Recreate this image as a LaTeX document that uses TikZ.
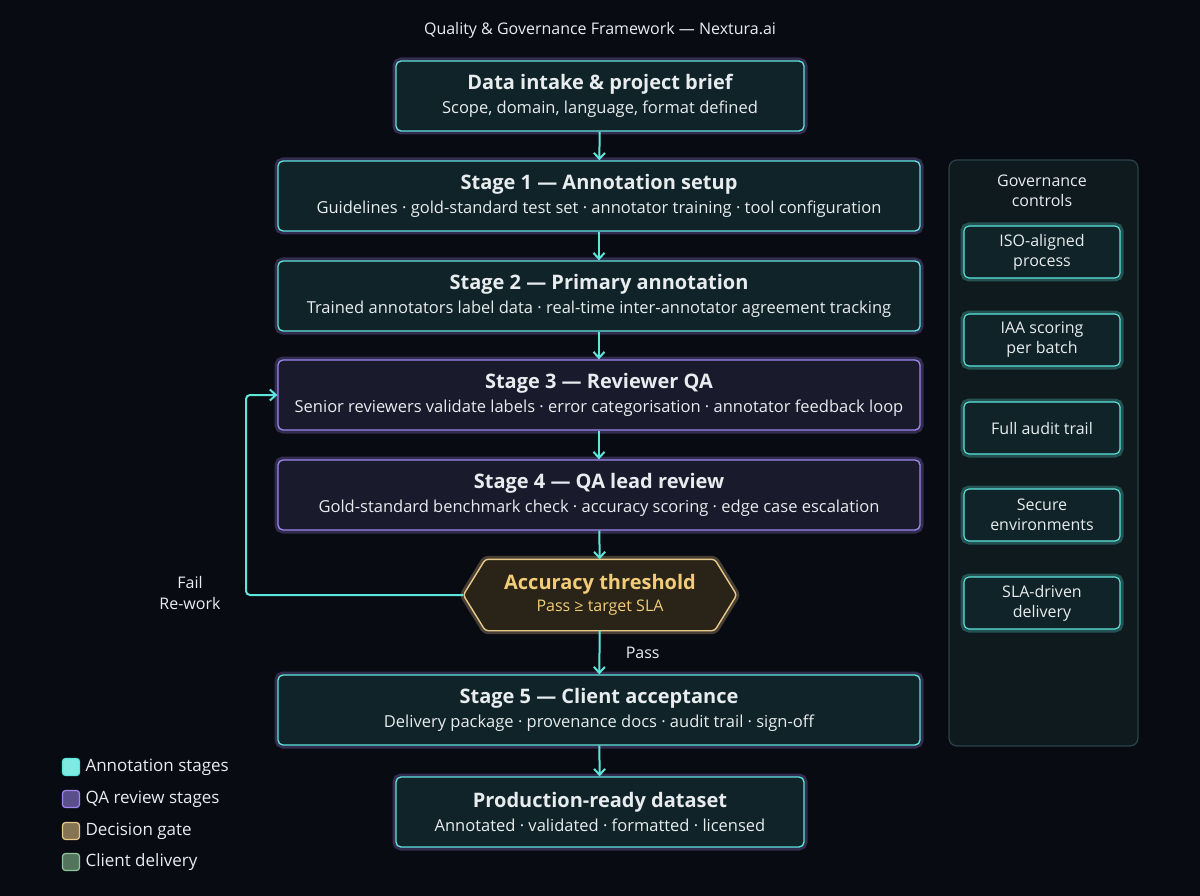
\documentclass[tikz,border=0pt]{standalone}
\usepackage{fontspec}
\setmainfont{Open Sans}
\usetikzlibrary{calc,arrows.meta}
\definecolor{bgc}{HTML}{090B13}
\definecolor{cyanl}{HTML}{5EE6DC}
\definecolor{cyanf}{HTML}{0F2328}
\definecolor{purl}{HTML}{9E86EE}
\definecolor{purf}{HTML}{191A2C}
\definecolor{goldl}{HTML}{E8C98A}
\definecolor{goldf}{HTML}{2A2418}
\definecolor{goldt}{HTML}{F2CC78}
\definecolor{greenl}{HTML}{8FC89A}
\definecolor{txt}{HTML}{E8ECEE}
\definecolor{panelf}{HTML}{0F1A1F}
\definecolor{panell}{HTML}{2C4248}
\tikzset{
  glow/.style={preaction={draw=#1, line width=7pt, draw opacity=0.28}},
  stage/.style={draw=cyanl, fill=cyanf, line width=1.3pt, rounded corners=5pt,
    glow=purl, text=txt, align=center, inner sep=0pt, minimum height=70pt},
  review/.style={stage, draw=purl, fill=purf},
  ctrl/.style={draw=cyanl, fill=cyanf, line width=1.1pt, rounded corners=5pt,
    glow=cyanl, text=txt, align=center, minimum width=156pt, minimum height=52pt,
    inner sep=0pt, font=\fontsize{16}{20}\selectfont},
  flow/.style={draw=cyanl, line width=2pt, -{Straight Barb[length=6pt,width=11pt]}},
  legbox/.style={draw=#1, fill=#1!55!bgc, line width=1.2pt, rounded corners=3pt,
    minimum size=17pt, inner sep=0pt},
  legtxt/.style={text=txt, anchor=west, font=\fontsize{17}{20}\selectfont}
}
\newcommand{\boxtext}[2]{{\fontsize{20}{24}\selectfont\bfseries #1}\\[6pt]{\fontsize{16.5}{20}\selectfont #2}}
\begin{document}
\begin{tikzpicture}[x=1pt,y=-1pt]
\fill[bgc] (0,0) rectangle (1200,896);
\useasboundingbox (0,0) rectangle (1200,896);

\node[text=txt, font=\fontsize{16}{19}\selectfont] (title) at (600,30) {Quality \& Governance Framework — Nextura.ai};

\node[stage, minimum width=408pt] (intake) at (600,96) {\boxtext{Data intake \& project brief}{Scope, domain, language, format defined}};
\node[stage, minimum width=642pt] (s1) at (599,196) {\boxtext{Stage 1 — Annotation setup}{Guidelines · gold-standard test set · annotator training · tool configuration}};
\node[stage, minimum width=642pt] (s2) at (599,296) {\boxtext{Stage 2 — Primary annotation}{Trained annotators label data · real-time inter-annotator agreement tracking}};
\node[review, minimum width=642pt] (s3) at (599,395) {\boxtext{Stage 3 — Reviewer QA}{Senior reviewers validate labels · error categorisation · annotator feedback loop}};
\node[review, minimum width=642pt] (s4) at (599,495) {\boxtext{Stage 4 — QA lead review}{Gold-standard benchmark check · accuracy scoring · edge case escalation}};

% decision gate
\node[minimum width=273pt, minimum height=71pt, inner sep=0pt] (gate) at (600,595) {};
\draw[draw=goldl, fill=goldf, line width=1.4pt, rounded corners=3pt, glow=goldl]
  (gate.west) -- ($(gate.north west)+(22,0)$) -- ($(gate.north east)+(-22,0)$)
  -- (gate.east) -- ($(gate.south east)+(-22,0)$) -- ($(gate.south west)+(22,0)$) -- cycle;
\node[text=goldt, align=center] at (gate) {{\fontsize{20}{24}\selectfont\bfseries Accuracy threshold}\\[4pt]{\fontsize{16}{19}\selectfont Pass ≥ target SLA}};

\node[stage, minimum width=642pt] (s5) at (599,710) {\boxtext{Stage 5 — Client acceptance}{Delivery package · provenance docs · audit trail · sign-off}};
\node[stage, minimum width=408pt] (final) at (600,812) {\boxtext{Production-ready dataset}{Annotated · validated · formatted · licensed}};

\draw[flow] (intake) -- (s1);
\draw[flow] (s1) -- (s2);
\draw[flow] (s2) -- (s3);
\draw[flow] (s3) -- (s4);
\draw[flow] (s4) -- (gate);
\draw[flow] (gate) -- node[right, text=txt, font=\fontsize{16}{19}\selectfont, xshift=22pt] {Pass} (s5);
\draw[flow] (s5) -- (final);
\coordinate (loop) at (246,595);
\draw[flow, rounded corners=4pt] (gate.west) -- (loop) |- (s3.west);
\node[text=txt, align=center, font=\fontsize{16}{21}\selectfont] (fail) at (190,593) {Fail\\Re-work};

% governance panel
\draw[draw=panell, fill=panelf, line width=1.2pt, rounded corners=8pt] (949,160) rectangle (1138,746);
\node[text=txt, align=center, font=\fontsize{16}{20}\selectfont] (govt) at (1042,191) {Governance\\controls};
\node[ctrl] (g1) at (1042,252) {ISO-aligned\\process};
\node[ctrl] (g2) at (1042,340) {IAA scoring\\per batch};
\node[ctrl] (g3) at (1042,428) {Full audit trail};
\node[ctrl] (g4) at (1042,515) {Secure\\environments};
\node[ctrl] (g5) at (1042,603) {SLA-driven\\delivery};

% legend
\node[legbox=cyanl, fill=cyanl!80] (l1) at (71,767) {};
\node[legtxt] at (82,767) {Annotation stages};
\node[legbox=purl] (l2) at (71,799) {};
\node[legtxt] at (82,799) {QA review stages};
\node[legbox=goldl] (l3) at (71,831) {};
\node[legtxt] at (82,831) {Decision gate};
\node[legbox=greenl] (l4) at (71,862) {};
\node[legtxt] at (82,862) {Client delivery};
\end{tikzpicture}
\end{document}
